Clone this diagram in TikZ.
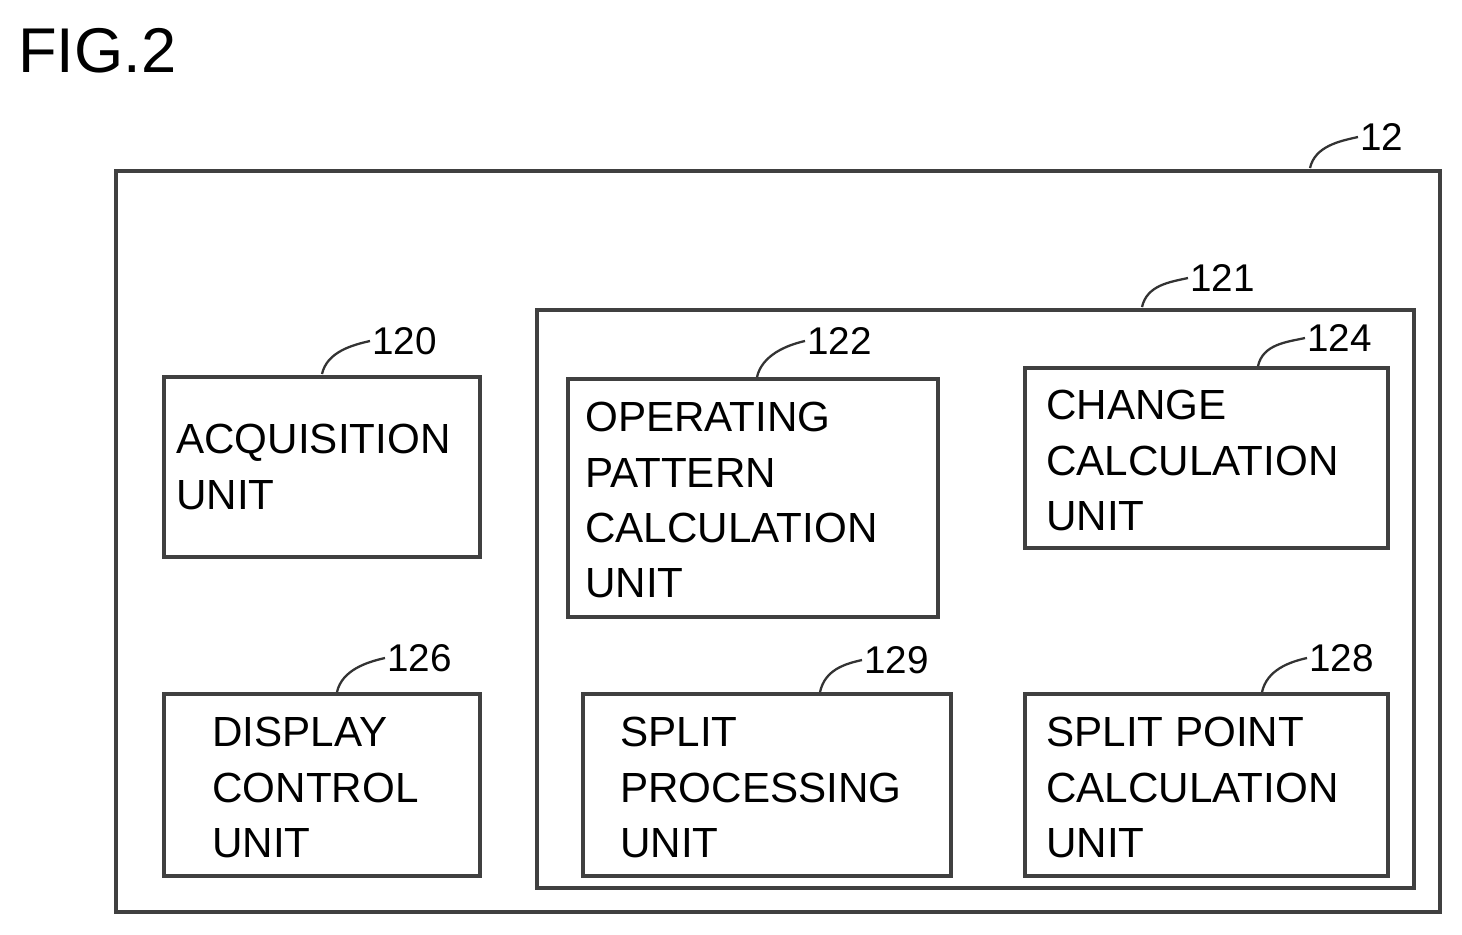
\documentclass[tikz,border=0pt]{standalone}
\usepackage{fontspec}
\setmainfont{Liberation Sans}
\usetikzlibrary{calc}
\begin{document}
\begin{tikzpicture}[x=0.02cm,y=-0.02cm,
  box/.style={draw=black!75,line width=2.2pt},
  lbl/.style={font=\fontsize{24}{31.5}\selectfont,align=left,anchor=north west,inner sep=0pt},
  num/.style={font=\fontsize{22}{24}\selectfont,inner sep=1pt,anchor=west},
  lead/.style={draw=black!80,line width=1.3pt}]
\useasboundingbox (0,0) rectangle (1462,934);
\node[anchor=north west,inner sep=0pt,font=\fontsize{36}{40}\selectfont] (fig) at (18,28) {FIG.2};
% boxes
\draw[box] (116,171) rectangle (1440,912);
\draw[box] (537,310) rectangle (1414,888);
\draw[box] (164,377) rectangle (480,557);
\draw[box] (568,379) rectangle (938,617);
\draw[box] (1025,368) rectangle (1388,548);
\draw[box] (164,694) rectangle (480,876);
\draw[box] (583,694) rectangle (951,876);
\draw[box] (1025,694) rectangle (1388,876);
% numbers
\node[num] (n12) at (1358,137) {12};
\node[num] (n121) at (1188,278) {121};
\node[num] (n120) at (370,341) {120};
\node[num] (n122) at (805,341) {122};
\node[num] (n124) at (1305,338) {124};
\node[num] (n126) at (385,658) {126};
\node[num] (n129) at (862,660) {129};
\node[num] (n128) at (1307,658) {128};
% leaders
\coordinate (c12) at (1310,168);
\coordinate (c121) at (1142,307);
\coordinate (c120) at (322,374);
\coordinate (c122) at (757,377);
\coordinate (c124) at (1258,366);
\coordinate (c126) at (337,692);
\coordinate (c129) at (820,692);
\coordinate (c128) at (1262,692);
\foreach \a/\b in {c12/n12,c121/n121,c120/n120,c122/n122,c124/n124,c126/n126,c129/n129,c128/n128}{
  \draw[lead] (\a) .. controls ($(\a)+(5,-22)$) and ($(\b.west)+(-18,4)$) .. (\b.west);
}
% texts
\node[lbl] (t120) at (176,424) {ACQUISITION\\UNIT};
\node[lbl] (t122) at (585,402) {OPERATING\\PATTERN\\CALCULATION\\UNIT};
\node[lbl] (t124) at (1046,390) {CHANGE\\CALCULATION\\UNIT};
\node[lbl] (t126) at (212,717) {DISPLAY\\CONTROL\\UNIT};
\node[lbl] (t129) at (620,717) {SPLIT\\PROCESSING\\UNIT};
\node[lbl] (t128) at (1046,717) {SPLIT POINT\\CALCULATION\\UNIT};
\end{tikzpicture}
\end{document}
